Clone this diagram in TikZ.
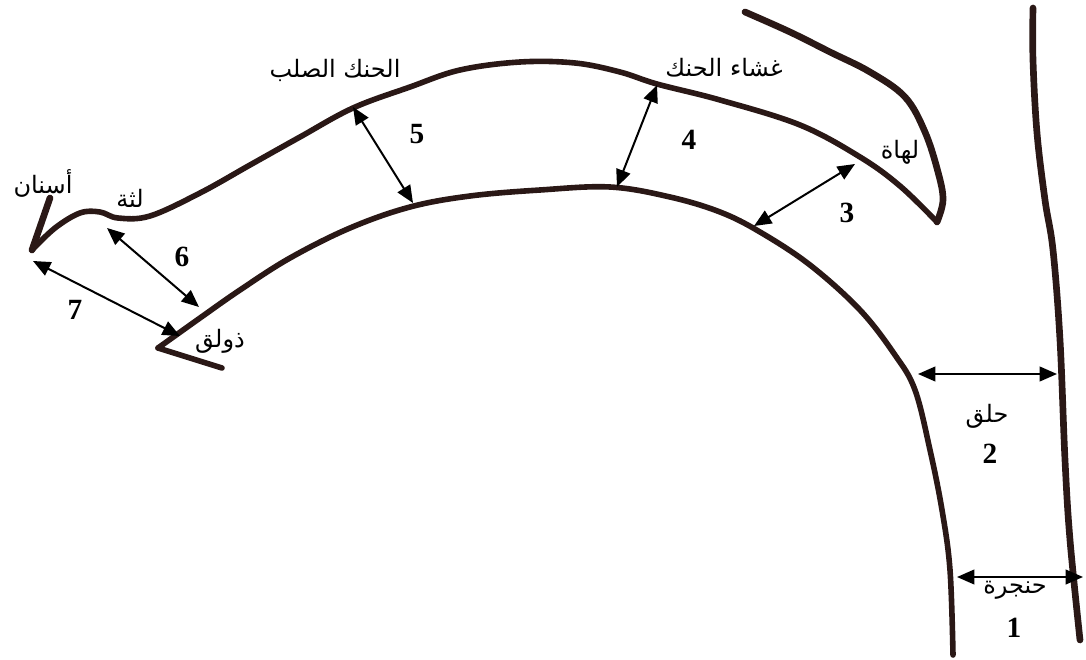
\documentclass[tikz,border=0pt]{standalone}
\usepackage{fontspec}
\usetikzlibrary{arrows.meta}
\TeXXeTstate=1
\newfontfamily\arabicfont[Script=Arabic]{DejaVu Sans}
\newfontfamily\numfont{Liberation Serif}
\definecolor{tract}{RGB}{42,24,22}
\tikzset{
  wall/.style={draw=tract, line width=4.2pt, line cap=round, line join=round},
  gap/.style={draw=black, line width=1.5pt, {Triangle[length=13pt,width=11pt]}-{Triangle[length=13pt,width=11pt]}},
  arlabel/.style={font=\arabicfont\fontsize{18}{20}\selectfont, inner sep=0pt},
  numlabel/.style={font=\numfont\bfseries\fontsize{22}{24}\selectfont, inner sep=0pt}
}
\begin{document}
\begin{tikzpicture}[x=0.75pt, y=-0.75pt]
\useasboundingbox (0,0) rectangle (1086,660);

% teeth
\draw[wall, line width=5pt] (50,198) -- (32,250);
% palate: teeth, ridge, hard and soft palate down to the uvula tip
\draw[wall] plot[smooth, tension=0.6] coordinates {
  (32,250) (55,228) (80,213) (100,212) (118,218) (150,216) (200,193)
  (250,165) (300,137) (353,108) (410,87) (460,70) (520,62) (575,63)
  (620,72) (657,84) (720,100) (800,125) (860,157) (900,186) (937,222)};
% back of the velum
\draw[wall, line width=5pt] plot[smooth, tension=0.6] coordinates {
  (745,12) (790,32) (830,52) (870,72) (905,97) (925,132) (938,172) (943,200) (937,222)};
% tongue, tip to root
\draw[wall] plot[smooth, tension=0.6] coordinates {
  (158,348) (200,318) (240,290) (290,258) (350,228) (410,207) (470,196)
  (540,190) (610,187) (670,197) (720,212) (760,232) (810,265) (860,310)
  (895,355) (915,390) (930,450) (942,510) (950,570) (953,655)};
% underside of the tongue tip
\draw[wall] (158,348) -- (222,368);
% back wall of the pharynx
\draw[wall, line width=5pt] plot[smooth, tension=0.6] coordinates {
  (1033,8) (1033,60) (1037,133) (1045,200) (1053,250) (1060,340)
  (1065,460) (1070,540) (1080,640)};

% arrow ends
\coordinate (g7a) at (33,261);  \coordinate (g7b) at (180,336);
\coordinate (g6a) at (107,228); \coordinate (g6b) at (199,307);
\coordinate (g5a) at (353,107); \coordinate (g5b) at (413,203);
\coordinate (g4a) at (657,85);  \coordinate (g4b) at (617,187);
\coordinate (g3a) at (855,164); \coordinate (g3b) at (754,226);
\coordinate (g2a) at (918,374); \coordinate (g2b) at (1057,374);
\coordinate (g1a) at (957,577); \coordinate (g1b) at (1083,577);

\draw[gap] (g7a) -- (g7b);
\draw[gap] (g6a) -- (g6b);
\draw[gap] (g5a) -- (g5b);
\draw[gap] (g4a) -- (g4b);
\draw[gap] (g3a) -- (g3b);
\draw[gap] (g2a) -- (g2b);
\draw[gap] (g1a) -- (g1b);

% numbers
\node[numlabel] (n7) at (75,310) {7};
\node[numlabel] (n6) at (182,257) {6};
\node[numlabel] (n5) at (417,134) {5};
\node[numlabel] (n4) at (689,140) {4};
\node[numlabel] (n3) at (847,213) {3};
\node[numlabel] (n2) at (990,454) {2};
\node[numlabel] (n1) at (1014,628) {1};

% names of the places of articulation
\node[arlabel] (teeth) at (43,183) {\beginR أسنان\endR};
\node[arlabel] (gum) at (130,198) {\beginR لثة\endR};
\node[arlabel] (hard) at (335,70) {\beginR الحنك الصلب\endR};
\node[arlabel] (soft) at (724,68) {\beginR غشاء الحنك\endR};
\node[arlabel] (uvula) at (900,152) {\beginR لهاة\endR};
\node[arlabel] (tip) at (220,341) {\beginR ذولق\endR};
\node[arlabel] (phar) at (987,416) {\beginR حلق\endR};
\node[arlabel] (lar) at (1015,590) {\beginR حنجرة\endR};
\end{tikzpicture}
\end{document}
